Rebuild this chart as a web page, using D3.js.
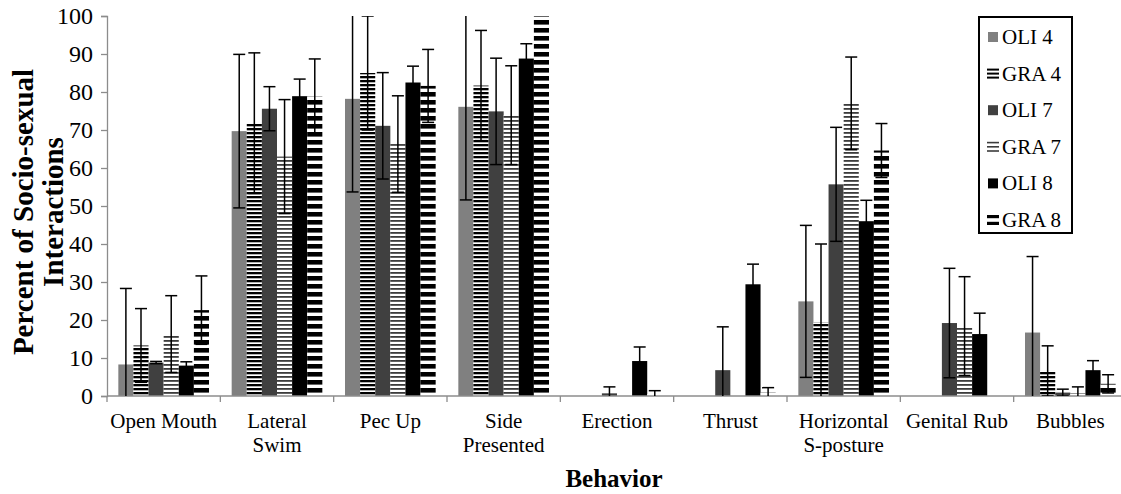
<!DOCTYPE html>
<html>
<head>
<meta charset="utf-8">
<script src="https://cdn.jsdelivr.net/npm/d3@7"></script>
<style>
  html, body { margin: 0; padding: 0; background: #fff; }
  svg { display: block; }
  text { font-family: "Liberation Serif", "Times New Roman", serif; fill: #000; }
</style>
</head>
<body>
<svg id="chart" width="1121" height="494"></svg>
<script>
// Behaviours on the x axis
const categories = ["Open Mouth", "Lateral Swim", "Pec Up", "Side Presented", "Erection",
                    "Thrust", "Horizontal S-posture", "Genital Rub", "Bubbles"];
// Two-line category labels
const categoryLabels = [["Open Mouth"], ["Lateral", "Swim"], ["Pec Up"], ["Side", "Presented"],
                        ["Erection"], ["Thrust"], ["Horizontal", "S-posture"], ["Genital Rub"], ["Bubbles"]];

const seriesNames = ["OLI 4", "GRA 4", "OLI 7", "GRA 7", "OLI 8", "GRA 8"];

// Mean percent per behaviour, one array per group
const oli4 = [8.3, 69.7, 78.2, 76.1, 0, 0, 24.9, 0, 16.7];
const gra4 = [13.3, 71.8, 85.0, 81.7, 0, 0, 19.4, 0, 6.6];
const oli7 = [8.8, 75.6, 71.1, 74.9, 0.7, 6.8, 55.7, 19.2, 0.9];
const gra7 = [16.3, 63.0, 66.3, 73.9, 0, 0, 77.0, 18.4, 0.7];
const oli8 = [8.0, 78.9, 82.5, 88.8, 9.2, 29.4, 46.0, 16.3, 6.8];
const gra8 = [22.6, 78.8, 81.6, 100, 0.5, 0.9, 64.6, 0, 3.2];

// Error (±) per behaviour
const oli4Err = [20.0, 20.2, 24.5, 24.5, 0, 0, 20.0, 0, 20.0];
const gra4Err = [9.7, 18.5, 15.0, 14.5, 0, 0, 20.6, 0, 6.6];
const oli7Err = [0.3, 5.8, 14.0, 14.0, 1.7, 11.4, 15.0, 14.4, 0.9];
const gra7Err = [10.1, 15.0, 12.7, 13.0, 0, 0, 12.2, 13.0, 1.7];
const oli8Err = [1.0, 4.5, 4.3, 3.9, 3.7, 5.3, 5.5, 5.5, 2.5];
const gra8Err = [9.0, 9.9, 9.6, 0, 0.9, 1.3, 7.1, 0, 2.4];

const yTicks = [0, 10, 20, 30, 40, 50, 60, 70, 80, 90, 100];

const seriesValues = [oli4, gra4, oli7, gra7, oli8, gra8];
const seriesErrors = [oli4Err, gra4Err, oli7Err, gra7Err, oli8Err, gra8Err];

const svg = d3.select("#chart");
const plot = { left: 107, right: 1127, top: 16, bottom: 396 };
const axisGray = "#8c8c8c";
const serif = "Liberation Serif, Times New Roman, serif";

const x = d3.scaleBand().domain(categories).range([plot.left, plot.right]).paddingInner(0).paddingOuter(0);
const x1 = d3.scaleBand().domain(seriesNames).range([0, x.bandwidth()]).paddingInner(0).paddingOuter(0.75);
const y = d3.scaleLinear().domain([0, 100]).range([plot.bottom, plot.top]);

// Fill patterns for the striped groups
const defs = svg.append("defs");
const stripeSpecs = [
  { id: "stripeGra4", period: 4, band: 2.3, color: "#000" },
  { id: "stripeGra7", period: 4, band: 1.8, color: "#3c3c3c" },
  { id: "stripeGra8", period: 8, band: 4.6, color: "#000" }
];
stripeSpecs.forEach(s => {
  const p = defs.append("pattern").attr("id", s.id)
    .attr("patternUnits", "userSpaceOnUse")
    .attr("width", 8).attr("height", s.period)
    .attr("y", plot.bottom);
  p.append("rect").attr("width", 8).attr("height", s.period).attr("fill", "#fff");
  p.append("rect").attr("y", 0).attr("width", 8).attr("height", s.band).attr("fill", s.color);
});
defs.append("clipPath").attr("id", "plotClip").append("rect")
  .attr("x", plot.left).attr("y", plot.top)
  .attr("width", plot.right - plot.left).attr("height", plot.bottom - plot.top);

const fills = ["#808080", "url(#stripeGra4)", "#404040", "url(#stripeGra7)", "#000000", "url(#stripeGra8)"];

// Bars
const barLayer = svg.append("g").attr("clip-path", "url(#plotClip)");
seriesNames.forEach((name, si) => {
  barLayer.append("g").selectAll("rect")
    .data(categories.map((c, i) => ({ c, v: seriesValues[si][i] })))
    .join("rect")
    .attr("x", d => x(d.c) + x1(name))
    .attr("width", x1.bandwidth())
    .attr("y", d => y(d.v))
    .attr("height", d => y(0) - y(d.v))
    .attr("fill", fills[si]);
});

// Axes
const yAxis = d3.axisLeft(y).tickValues(yTicks).tickSize(6).tickPadding(8);
const gy = svg.append("g").attr("transform", `translate(${plot.left},0)`).call(yAxis)
  .attr("font-family", serif).attr("font-size", 24);
gy.select(".domain").attr("stroke", axisGray).attr("stroke-width", 1.3);
gy.selectAll(".tick line").attr("stroke", axisGray).attr("stroke-width", 1.3);
gy.selectAll(".tick text").attr("fill", "#000");

const gx = svg.append("g").attr("transform", `translate(0,${plot.bottom})`);
gx.append("line").attr("x1", plot.left).attr("x2", plot.right).attr("y1", 0).attr("y2", 0)
  .attr("stroke", axisGray).attr("stroke-width", 1.3);
gx.selectAll("line.cat").data(categories.concat(["_end"]))
  .join("line").attr("class", "cat")
  .attr("x1", (d, i) => i < categories.length ? x(d) : plot.right)
  .attr("x2", (d, i) => i < categories.length ? x(d) : plot.right)
  .attr("y1", 0).attr("y2", 6).attr("stroke", axisGray).attr("stroke-width", 1.3);

const labels = gx.selectAll("text.cat").data(categoryLabels).join("text").attr("class", "cat")
  .attr("x", (d, i) => x(categories[i]) + x.bandwidth() / 2)
  .attr("y", 32)
  .attr("text-anchor", "middle")
  .style("font-size", "21px");
labels.selectAll("tspan").data(d => d).join("tspan")
  .attr("x", function () { return d3.select(this.parentNode).attr("x"); })
  .attr("dy", (d, i) => i === 0 ? 0 : 24)
  .text(d => d);

// Error bars
const errLayer = svg.append("g").attr("clip-path", "url(#plotClip)");
const capHalf = 6;
seriesNames.forEach((name, si) => {
  const pts = categories.map((c, i) => ({
    cx: x(c) + x1(name) + x1.bandwidth() / 2,
    v: seriesValues[si][i], e: seriesErrors[si][i]
  })).filter(d => d.e > 0);
  const g = errLayer.append("g").attr("stroke", "#000").attr("stroke-width", 1.5);
  g.selectAll("line.stem").data(pts).join("line").attr("class", "stem")
    .attr("x1", d => d.cx).attr("x2", d => d.cx)
    .attr("y1", d => y(d.v + d.e)).attr("y2", d => y(d.v - d.e));
  g.selectAll("line.capTop").data(pts).join("line").attr("class", "capTop")
    .attr("x1", d => d.cx - capHalf).attr("x2", d => d.cx + capHalf)
    .attr("y1", d => y(d.v + d.e)).attr("y2", d => y(d.v + d.e));
  g.selectAll("line.capBot").data(pts).join("line").attr("class", "capBot")
    .attr("x1", d => d.cx - capHalf).attr("x2", d => d.cx + capHalf)
    .attr("y1", d => y(d.v - d.e)).attr("y2", d => y(d.v - d.e));
});

// Axis titles
svg.append("text").attr("x", 614).attr("y", 487).attr("text-anchor", "middle")
  .style("font-size", "25px").style("font-weight", "bold").text("Behavior");
const yTitle = svg.append("text")
  .attr("transform", `translate(33,212) rotate(-90)`)
  .attr("text-anchor", "middle")
  .style("font-size", "29px").style("font-weight", "bold");
yTitle.append("tspan").attr("x", 0).attr("dy", 0).text("Percent of Socio-sexual");
yTitle.append("tspan").attr("x", 0).attr("dy", 30).text("Interactions");

// Legend
const legend = svg.append("g");
const lg = { x: 979, y: 17, w: 93, h: 216, rowStart: 37, rowStep: 36.6 };
legend.append("rect").attr("x", lg.x).attr("y", lg.y).attr("width", lg.w).attr("height", lg.h)
  .attr("fill", "#fff").attr("stroke", "#000").attr("stroke-width", 2);
const legendSwatch = [
  { type: "solid", color: "#808080" },
  { type: "lines", color: "#000", n: 3, h: 2 },
  { type: "solid", color: "#404040" },
  { type: "lines", color: "#3c3c3c", n: 3, h: 1.6 },
  { type: "solid", color: "#000" },
  { type: "lines", color: "#000", n: 2, h: 3.2 }
];
seriesNames.forEach((name, i) => {
  const cy = lg.rowStart + i * lg.rowStep;
  const row = legend.append("g");
  const sw = legendSwatch[i];
  if (sw.type === "solid") {
    row.append("rect").attr("x", 988).attr("y", cy - 5).attr("width", 10).attr("height", 10).attr("fill", sw.color);
  } else {
    const gap = (10 - sw.h) / (sw.n - 1);
    d3.range(sw.n).forEach(k => {
      row.append("rect").attr("x", 987).attr("y", cy - 5 + k * gap).attr("width", 12).attr("height", sw.h).attr("fill", sw.color);
    });
  }
  row.append("text").attr("x", 1002).attr("y", cy + 7).style("font-size", "21px").text(name);
});
</script>
</body>
</html>
